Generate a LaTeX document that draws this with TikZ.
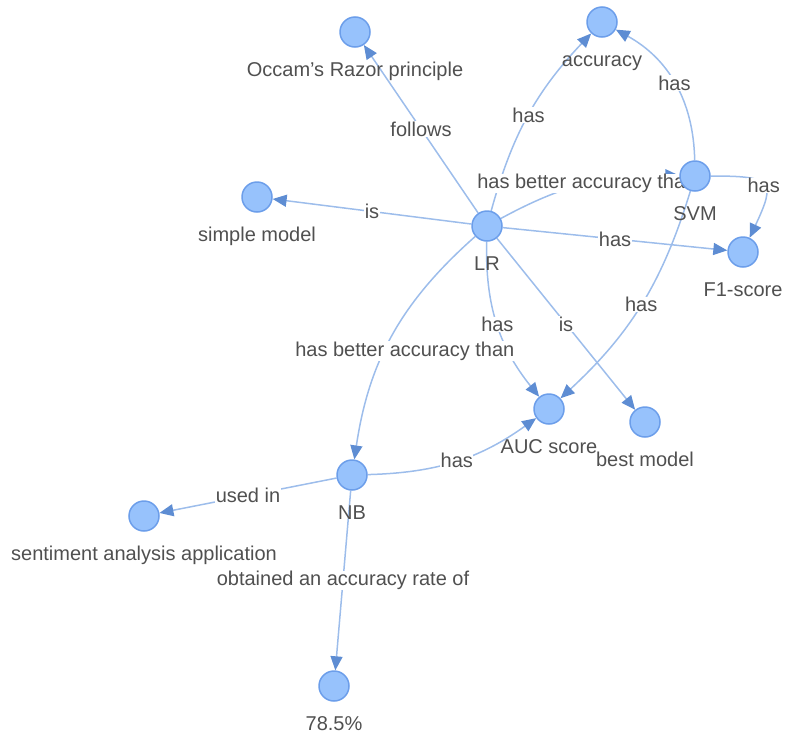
\documentclass[tikz,border=0pt]{standalone}
\usepackage{fontspec}
\setmainfont{Liberation Sans}
\usetikzlibrary{arrows.meta, backgrounds}
\definecolor{NodeF}{HTML}{97C2FC}
\definecolor{NodeB}{HTML}{6C9EEA}
\definecolor{EdgeB}{HTML}{9DBDEB}
\definecolor{ArrB} {HTML}{5E8DD3}
\definecolor{TextG}{HTML}{505050}
\tikzset{
  concept/.style={
    circle, draw=NodeB, fill=NodeF,
    line width=1.5pt, minimum size=30pt, inner sep=0pt,
    label distance=0pt,
  },
  clbl/.style={
    font=\fontsize{20}{24}\selectfont, text=TextG,
    inner sep=0pt, text height=29pt, text depth=0pt,
  },
  rel/.style={
    -{Triangle[length=14pt,width=12pt,color=ArrB]},
    line width=1.5pt, draw=EdgeB,
  },
  rlbl/.style={
    font=\fontsize{20}{24}\selectfont, text=TextG,
    fill=white, inner sep=0.5pt, midway,
  },
}

\begin{document}
\begin{tikzpicture}[x=1pt,y=-1pt]
  \useasboundingbox (0,0) rectangle (786,734);
  % concepts
  \node[concept, label={[clbl]below:Occam's Razor principle}] (occam) at (355,32)  {};
  \node[concept, label={[clbl]below:accuracy}]                (acc)   at (602,22)  {};
  \node[concept, label={[clbl]below:SVM}]                     (svm)   at (695,176) {};
  \node[concept, label={[clbl]below:simple model}]            (simple) at (257,197) {};
  \node[concept, label={[clbl]below:LR}]                      (lr)    at (487,226) {};
  \node[concept, label={[clbl]below:F1-score}]                (f1)    at (743,252) {};
  \node[concept, label={[clbl]below:AUC score}]               (auc)   at (549,409) {};
  \node[concept, label={[clbl]below:best model}]              (best)  at (645,422) {};
  \node[concept, label={[clbl]below:NB}]                      (nb)    at (352,475) {};
  \node[concept, label={[clbl]below:sentiment analysis application}] (senti) at (144,516) {};
  \node[concept, label={[clbl]below:78.5\%}]                  (rate)  at (334,686) {};

  % relations
  \begin{scope}[on background layer]
    \draw[rel] (lr) -- node[rlbl] {follows} (occam);
    \draw[rel] (lr) to[bend left=14] node[rlbl] {has} (acc);
    \draw[rel] (svm) to[bend right=30] node[rlbl] {has} (acc);
    \draw[rel] (lr) to[bend left=15] node[rlbl] {has better accuracy than} (svm);
    \draw[rel] (svm) to[out=0,in=65,looseness=2.2] node[rlbl] {has} (f1);
    \draw[rel] (lr) -- node[rlbl] {is} (simple);
    \draw[rel] (lr) -- node[rlbl] {has} (f1);
    \draw[rel] (lr) to[bend right=20] node[rlbl] {has} (auc);
    \draw[rel] (lr) -- node[rlbl] {is} (best);
    \draw[rel] (svm) to[bend left=15] node[rlbl] {has} (auc);
    \draw[rel] (lr) to[bend right=20] node[rlbl, pos=0.57, xshift=20pt] {has better accuracy than} (nb);
    \draw[rel] (nb) to[bend right=17] node[rlbl] {has} (auc);
    \draw[rel] (nb) -- node[rlbl] {used in} (senti);
    \draw[rel] (nb) -- node[rlbl] {obtained an accuracy rate of} (rate);
  \end{scope}
\end{tikzpicture}
\end{document}
